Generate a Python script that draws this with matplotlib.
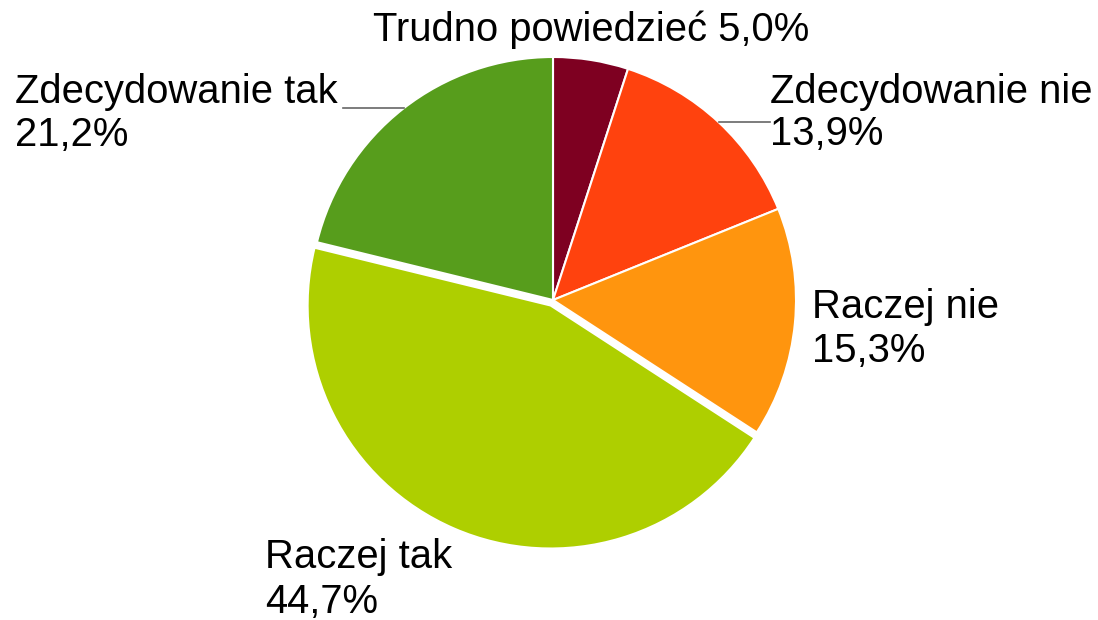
import numpy as np
import matplotlib.pyplot as plt

# data (clockwise from 12 o'clock)
labels = ['Trudno powiedzieć', 'Zdecydowanie nie', 'Raczej nie', 'Raczej tak', 'Zdecydowanie tak']
values = [5.0, 13.9, 15.3, 44.7, 21.2]
colors = ['#7e0021', '#ff420e', '#ff950e', '#aecf00', '#579d1c']
explode = [0, 0, 0, 6, 0]   # in pixels (pie offsets are not scaled by radius)

plt.rcParams['font.family'] = ['Liberation Sans', 'DejaVu Sans']

W, H = 1098, 620
fig = plt.figure(figsize=(W / 100, H / 100), dpi=100)
ax = fig.add_axes([0, 0, 1, 1])

cx, cy, r = 553, H - 300, 243
wedges, _ = ax.pie(values, colors=colors, startangle=90, counterclock=False,
                   explode=explode, center=(cx, cy), radius=r,
                   wedgeprops=dict(edgecolor='white', linewidth=1.5))

# pie() resets the limits, so set pixel-like coords afterwards
ax.set_xlim(0, W)
ax.set_ylim(0, H)
ax.set_aspect('equal')
ax.axis('off')

def fmt(v):
    return ('%.1f%%' % v).replace('.', ',')

fs = 28.8
# label anchor: x, baseline of first line (from top), second line baseline, align
pos = [(591, 41, None, 'center'), (770, 103, 145, 'left'), (812, 318, 362, 'left'),
       (265, 568, 613, 'left'), (15, 103, 146, 'left')]
for i, (lab, v) in enumerate(zip(labels, values)):
    x, y1, y2, ha = pos[i]
    if y2 is None:
        ax.text(x, H - y1, lab + ' ' + fmt(v), fontsize=fs, ha=ha, va='baseline')
    else:
        ax.text(x, H - y1, lab, fontsize=fs, ha=ha, va='baseline')
        ax.text(x, H - y2, fmt(v), fontsize=fs, ha=ha, va='baseline')

# leader lines from wedge edge at mid angle
cum = np.cumsum([0] + values)
for i, tx in [(1, 770), (4, 343)]:
    mid = 90 - (cum[i] + values[i] / 2) * 3.6
    px = cx + r * np.cos(np.radians(mid))
    py = cy + r * np.sin(np.radians(mid))
    ax.plot([px, tx], [py, py], color='#666666', lw=1.2)

fig.savefig('out.png', dpi=100)
